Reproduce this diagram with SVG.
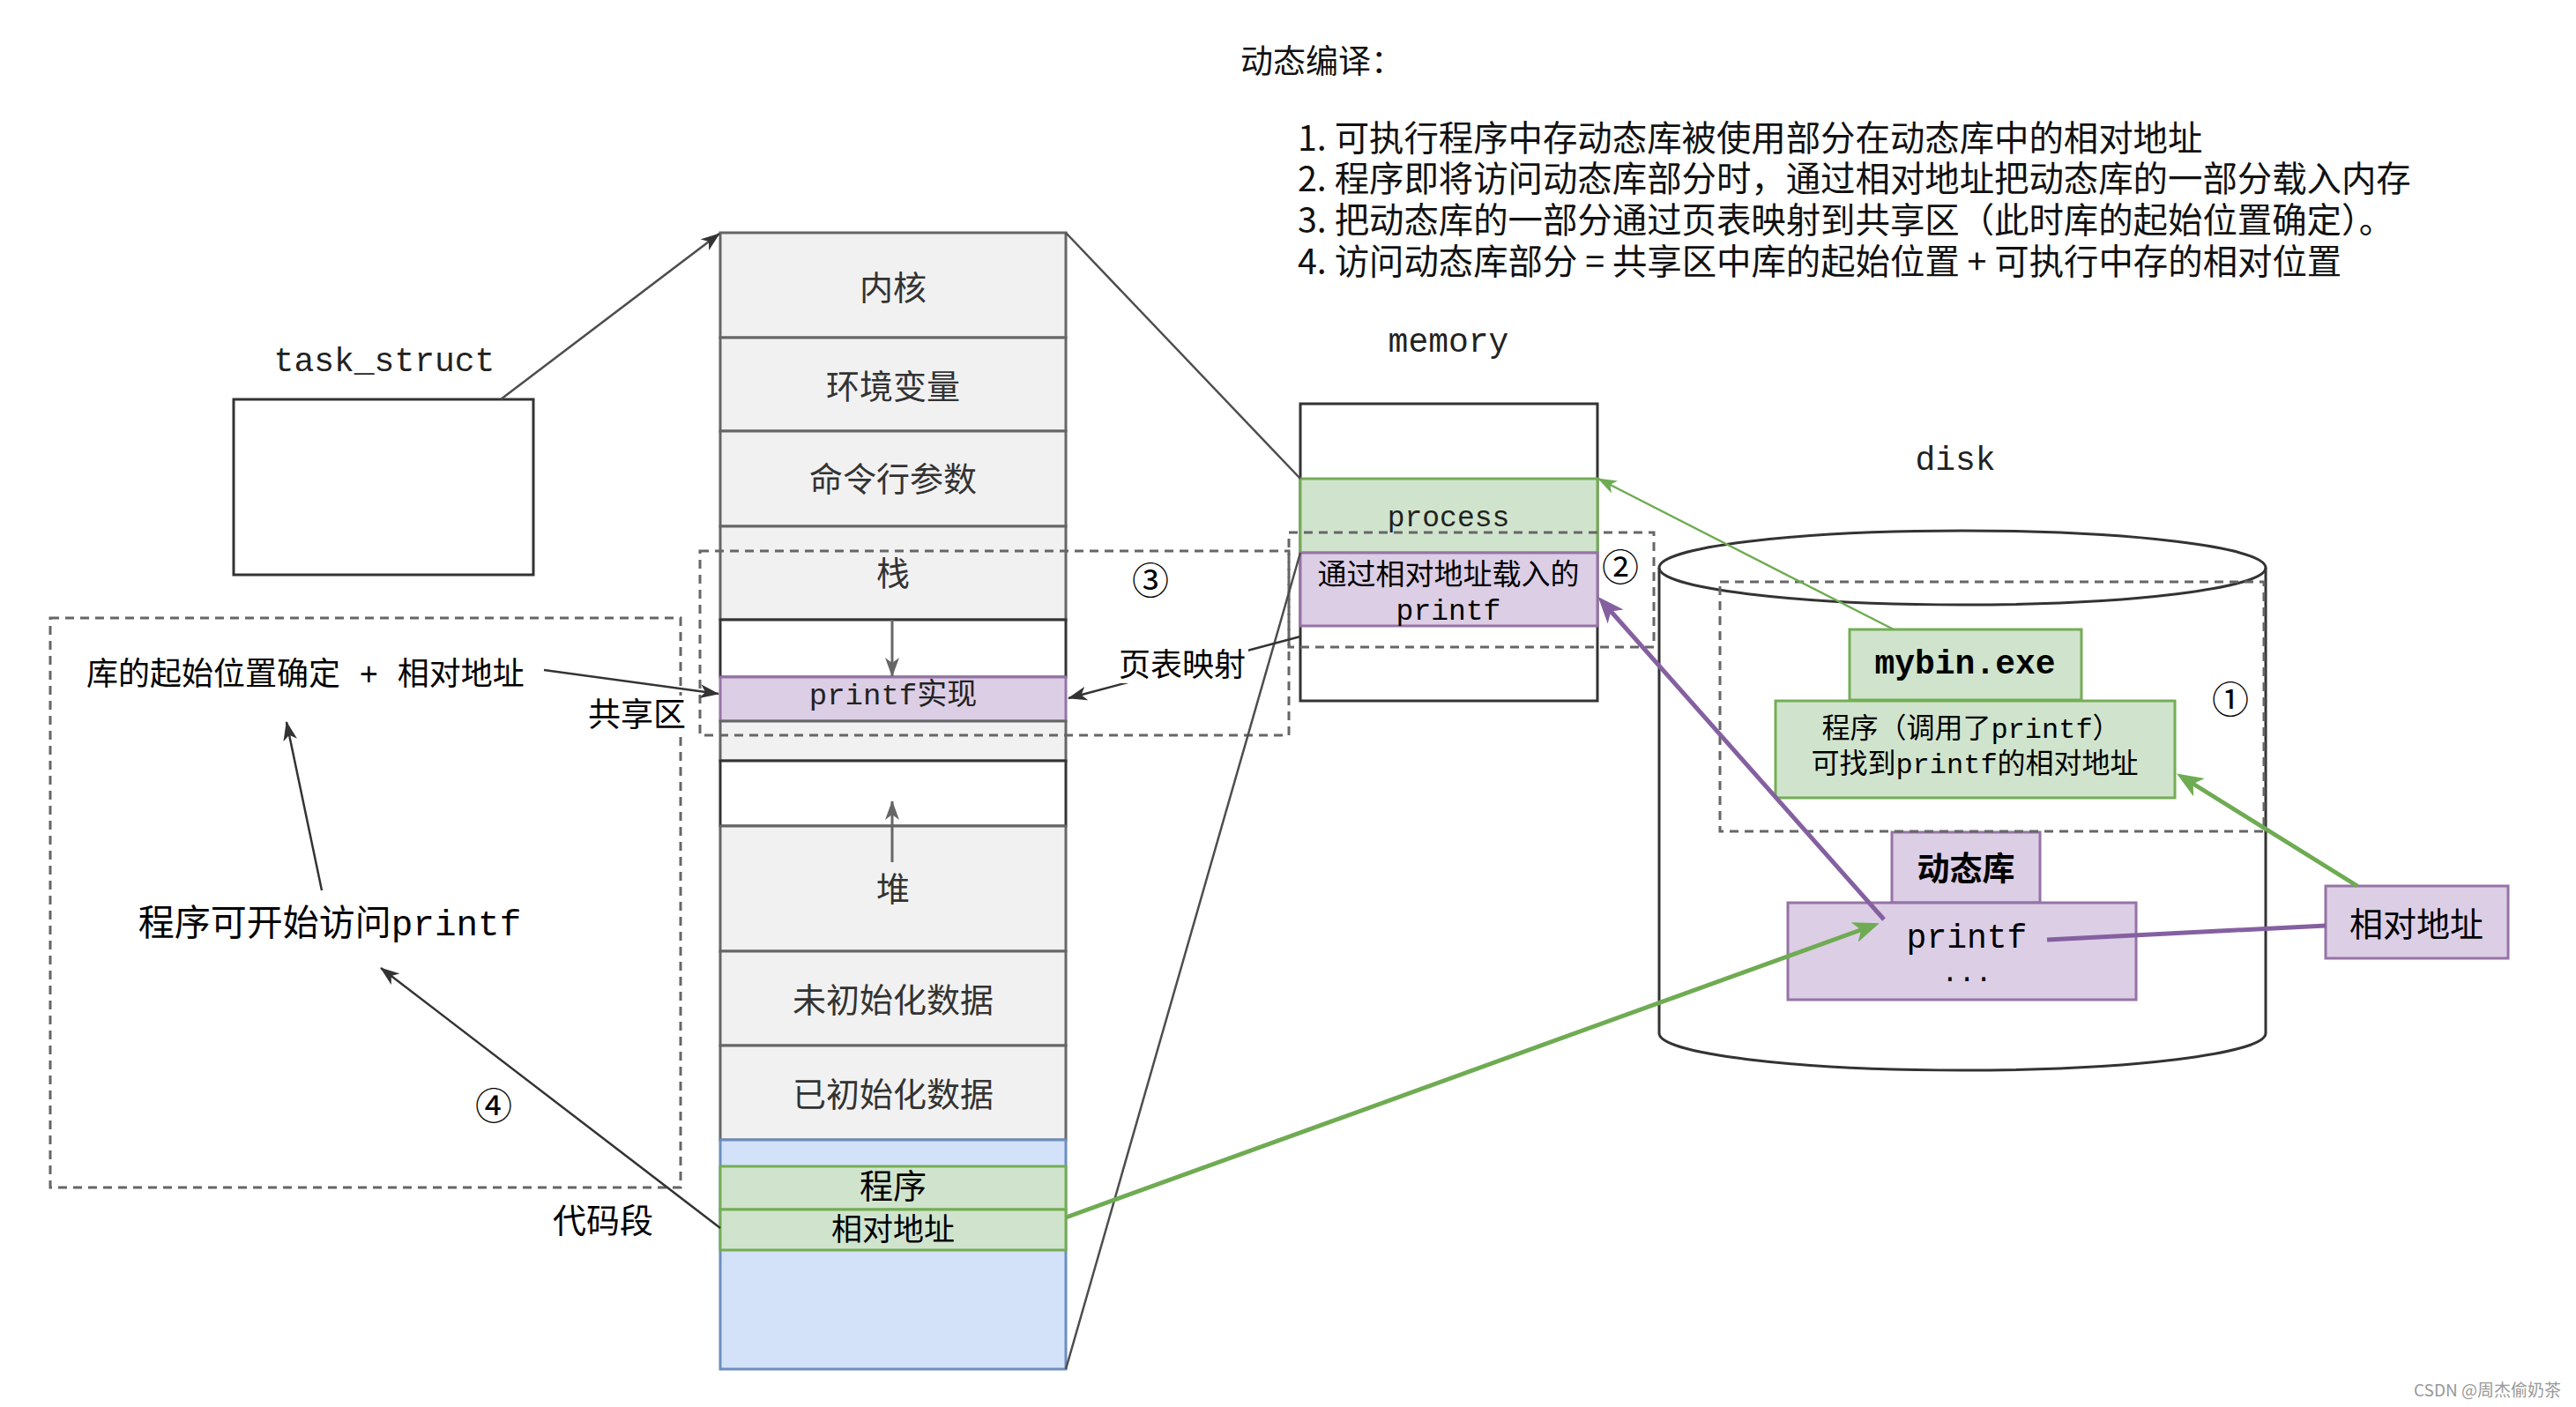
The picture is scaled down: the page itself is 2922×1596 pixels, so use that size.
<svg xmlns="http://www.w3.org/2000/svg" width="2922" height="1596" viewBox="0 0 2922 1596">
<style>
.gray{fill:#f1f1f1;stroke:#666;stroke-width:3}
.wht{fill:#fff;stroke:#333;stroke-width:3}
.pur{fill:#dccee5;stroke:#9673a6;stroke-width:3}
.grn{fill:#d0e4cd;stroke:#74ad55;stroke-width:3}
.blu{fill:#d4e2f9;stroke:#6c8ebf;stroke-width:3}
.dash{fill:none;stroke:#666;stroke-width:3;stroke-dasharray:10 7}
.cjk{font-family:"Noto Sans CJK SC","Noto Sans",sans-serif}
.mono{font-family:"Liberation Mono","Noto Sans CJK SC",monospace}
.c{text-anchor:middle;dominant-baseline:central}
.dark{fill:none;stroke:#333;stroke-width:2.5}
.gline{fill:none;stroke:#4d4d4d;stroke-width:2.5}
</style>
<defs>
<marker id="arrDark" viewBox="0 0 22 16" refX="21" refY="8" markerWidth="22" markerHeight="16" orient="auto" markerUnits="userSpaceOnUse"><path d="M0,0 L22,8 L0,16 L6,8 Z" fill="#333"/></marker>
<marker id="arrGray" viewBox="0 0 22 16" refX="21" refY="8" markerWidth="22" markerHeight="16" orient="auto" markerUnits="userSpaceOnUse"><path d="M0,0 L22,8 L0,16 L6,8 Z" fill="#666"/></marker>
<marker id="arrGreenThin" viewBox="0 0 22 16" refX="21" refY="8" markerWidth="22" markerHeight="16" orient="auto" markerUnits="userSpaceOnUse"><path d="M0,0 L22,8 L0,16 L6,8 Z" fill="#6fab52"/></marker>
<marker id="arrGreen" viewBox="0 0 30 24" refX="10" refY="12" markerWidth="30" markerHeight="24" orient="auto" markerUnits="userSpaceOnUse"><path d="M0,0 L30,12 L0,24 L8,12 Z" fill="#6fab52"/></marker>
<marker id="arrPurple" viewBox="0 0 30 24" refX="10" refY="12" markerWidth="30" markerHeight="24" orient="auto" markerUnits="userSpaceOnUse"><path d="M0,0 L30,12 L0,24 L8,12 Z" fill="#8560a0"/></marker>
</defs>
<rect x="0" y="0" width="2922" height="1596" fill="#fff"/>

<g id="notes" class="cjk" font-size="39.4" fill="#111">
<text x="1407" y="67" font-size="37" dominant-baseline="central">动态编译：</text>
<text x="1472" y="153" dominant-baseline="central">1. 可执行程序中存动态库被使用部分在动态库中的相对地址</text>
<text x="1472" y="199" dominant-baseline="central">2. 程序即将访问动态库部分时，通过相对地址把动态库的一部分载入内存</text>
<text x="1472" y="246" dominant-baseline="central">3. 把动态库的一部分通过页表映射到共享区（此时库的起始位置确定）。</text>
<text x="1472" y="293" dominant-baseline="central">4. 访问动态库部分 = 共享区中库的起始位置 + 可执行中存的相对位置</text>
</g>

<g id="task_struct">
<text x="436" y="410" class="mono c" font-size="38" fill="#222">task_struct</text>
<rect x="265" y="453" width="340" height="199" class="wht"/>
</g>

<g id="disk">
<text x="2218" y="522" class="mono c" font-size="38" fill="#222">disk</text>
<path d="M1882,644 A344,42 0 0,1 2570,644 L2570,1172 A344,42 0 0,1 1882,1172 Z" fill="#fff" stroke="#333" stroke-width="3"/>
<path d="M1882,644 A344,42 0 0,0 2570,644" fill="none" stroke="#333" stroke-width="3"/>
<g id="mybin">
<rect x="2098" y="714" width="263" height="80" class="grn"/>
<text x="2229" y="753" class="mono c" font-size="38" font-weight="bold" fill="#000">mybin.exe</text>
</g>
<g id="program">
<rect x="2014" y="795" width="453" height="110" class="grn"/>
<text x="2236" y="828" class="mono c" font-size="32" fill="#000">程序（调用了printf）</text>
<text x="2240" y="868" class="mono c" font-size="32" fill="#000">可找到printf的相对地址</text>
</g>
<g id="dynlib">
<rect x="2146" y="944" width="168" height="80" class="pur"/>
<text x="2230" y="983" class="cjk c" font-size="37" font-weight="bold" fill="#000">动态库</text>
</g>
<g id="dynlib-printf">
<rect x="2028" y="1024" width="395" height="110" class="pur"/>
<text x="2231" y="1064" class="mono c" font-size="38" fill="#000">printf</text>
<text x="2231" y="1104" class="mono c" font-size="32" fill="#000">...</text>
</g>
<rect x="1951" y="660" width="617" height="283" class="dash"/>
<text x="2530" y="790" class="cjk c" font-size="42" fill="#000">①</text>
</g>

<g id="rel-addr">
<rect x="2638" y="1005" width="207" height="82" class="pur"/>
<text x="2741" y="1045" class="cjk c" font-size="38" fill="#000">相对地址</text>
</g>

<g id="address-space">
<rect x="817" y="264" width="392" height="119" class="gray"/>
<rect x="817" y="383" width="392" height="106" class="gray"/>
<rect x="817" y="489" width="392" height="108" class="gray"/>
<rect x="817" y="597" width="392" height="106" class="gray"/>
<rect x="817" y="703" width="392" height="65" class="wht"/>
<rect x="817" y="768" width="392" height="50" class="pur"/>
<rect x="817" y="818" width="392" height="45" class="gray"/>
<rect x="817" y="863" width="392" height="74" class="wht"/>
<rect x="817" y="937" width="392" height="142" class="gray"/>
<rect x="817" y="1079" width="392" height="107" class="gray"/>
<rect x="817" y="1186" width="392" height="107" class="gray"/>
<rect x="817" y="1293" width="392" height="260" class="blu"/>
<rect x="817" y="1323" width="392" height="49" class="grn"/>
<rect x="817" y="1372" width="392" height="46" class="grn"/>
<g class="cjk c" font-size="38" fill="#333">
<text x="1013" y="323">内核</text>
<text x="1013" y="435">环境变量</text>
<text x="1013" y="540">命令行参数</text>
<text x="1013" y="647">栈</text>
<text x="1013" y="1005">堆</text>
<text x="1013" y="1131">未初始化数据</text>
<text x="1013" y="1238">已初始化数据</text>
</g>
<text x="1013" y="790" class="mono c" font-size="34" fill="#222">printf实现</text>
<text x="1013" y="1342" class="cjk c" font-size="38" fill="#000">程序</text>
<text x="1013" y="1391" class="cjk c" font-size="35" fill="#000">相对地址</text>
<line x1="1012" y1="703" x2="1012" y2="767" stroke="#666" stroke-width="3" marker-end="url(#arrGray)"/>
<line x1="1012" y1="978" x2="1012" y2="909" stroke="#666" stroke-width="3" marker-end="url(#arrGray)"/>
</g>

<g id="memory">
<text x="1643" y="388" class="mono c" font-size="38" fill="#222">memory</text>
<rect x="1475" y="458" width="337" height="337" class="wht"/>
<rect x="1475" y="543" width="337" height="84" class="grn"/>
<rect x="1475" y="627" width="337" height="83" class="pur"/>
<text x="1643" y="588" class="mono c" font-size="33" fill="#222">process</text>
<text x="1643" y="649" class="cjk c" font-size="33" fill="#000">通过相对地址载入的</text>
<text x="1643" y="694" class="mono c" font-size="33" fill="#000">printf</text>
</g>

<g id="regions">
<rect x="794" y="625" width="668" height="209" class="dash"/>
<rect x="1462" y="604" width="414" height="130" class="dash"/>
<rect x="57" y="701" width="715" height="646" class="dash"/>
<text x="1305" y="655" class="cjk c" font-size="42" fill="#000">③</text>
<text x="1838" y="640" class="cjk c" font-size="42" fill="#000">②</text>
<text x="560" y="1251" class="cjk c" font-size="42" fill="#000">④</text>
</g>

<g id="connectors">
<line x1="568" y1="453" x2="816" y2="265" class="gline" marker-end="url(#arrDark)"/>
<line x1="1209" y1="264" x2="1475" y2="543" class="gline"/>
<line x1="1209" y1="1553" x2="1475" y2="627" class="gline"/>
<line x1="1475" y1="722" x2="1212" y2="792" class="dark" marker-end="url(#arrDark)"/>
<line x1="617" y1="760" x2="815" y2="787" class="dark" marker-end="url(#arrDark)"/>
<line x1="365" y1="1010" x2="325" y2="819" class="dark" marker-end="url(#arrDark)"/>
<line x1="817" y1="1393" x2="432" y2="1098" class="dark" marker-end="url(#arrDark)"/>
<line x1="2148" y1="714" x2="1813" y2="543" stroke="#6fab52" stroke-width="2.5" marker-end="url(#arrGreenThin)"/>
<line x1="1209" y1="1381" x2="2113" y2="1054" stroke="#6fab52" stroke-width="5" marker-end="url(#arrGreen)"/>
<line x1="2137" y1="1043" x2="1826" y2="692" stroke="#8560a0" stroke-width="5" marker-end="url(#arrPurple)"/>
<line x1="2638" y1="1050" x2="2322" y2="1066" stroke="#8560a0" stroke-width="5"/>
<line x1="2674" y1="1005" x2="2486" y2="888" stroke="#6fab52" stroke-width="5" marker-end="url(#arrGreen)"/>
</g>

<g id="labels">
<rect x="1266" y="733" width="150" height="42" fill="#fff"/>
<text x="1341" y="751" class="cjk c" font-size="36" fill="#000">页表映射</text>
<rect x="662" y="789" width="118" height="42" fill="#fff"/>
<text x="778" y="808" class="cjk" font-size="37" fill="#000" text-anchor="end" dominant-baseline="central">共享区</text>
<text x="684" y="1381" class="cjk c" font-size="38" fill="#000">代码段</text>
<text x="98" y="767" class="mono" font-size="36" fill="#000" dominant-baseline="central">库的起始位置确定 + 相对地址</text>
<text x="374" y="1050" class="mono c" font-size="41" fill="#000">程序可开始访问printf</text>
<text x="2905" y="1575" class="cjk" font-size="19" fill="#999" text-anchor="end" dominant-baseline="central">CSDN @周杰偷奶茶</text>
</g>
</svg>
